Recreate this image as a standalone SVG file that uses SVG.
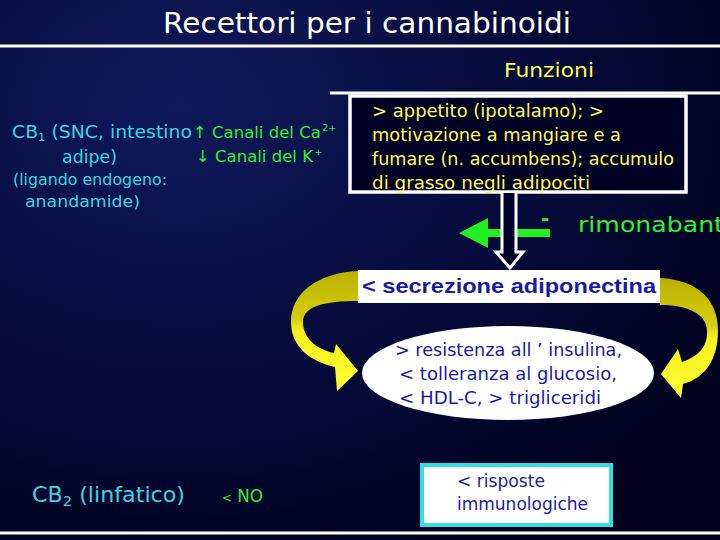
<svg xmlns="http://www.w3.org/2000/svg" width="720" height="540" viewBox="0 0 720 540">
<defs>
<radialGradient id="bg" cx="0.25" cy="0.2" r="0.95">
<stop offset="0" stop-color="#0f1a5a"/>
<stop offset="0.5" stop-color="#060b3c"/>
<stop offset="1" stop-color="#00001a"/>
</radialGradient>
<linearGradient id="ylL" x1="0" y1="0" x2="0" y2="1">
<stop offset="0" stop-color="#b8b000"/>
<stop offset="0.4" stop-color="#d6cf10"/>
<stop offset="0.5" stop-color="#f6f020"/>
<stop offset="1" stop-color="#ffff30"/>
</linearGradient>
<style>
.c{font-family:"DejaVu Sans","Open Sans",sans-serif}
.cy{fill:#3ad6e0}
.gr{fill:#33ee33}
.ye{fill:#ffff55}
.bl{fill:#1a1aa0}
.wl{stroke:#ffffff;stroke-width:3}
</style>
</defs>
<rect width="720" height="540" fill="url(#bg)"/>
<g id="title">
<text class="c" x="367" y="33" font-size="29" fill="#ffffff" text-anchor="middle" textLength="408" lengthAdjust="spacingAndGlyphs">Recettori per i cannabinoidi</text>
<line class="wl" x1="0" y1="46" x2="720" y2="46"/>
</g>
<g id="funzioni">
<text class="c ye" x="549" y="77" font-size="19" text-anchor="middle" textLength="90" lengthAdjust="spacingAndGlyphs">Funzioni</text>
<line class="wl" x1="330" y1="93" x2="720" y2="93"/>
</g>
<g id="cb1">
<text class="c cy" x="12" y="138" font-size="18" textLength="180" lengthAdjust="spacingAndGlyphs">CB<tspan font-size="11" dy="3">1</tspan><tspan dy="-3"> (SNC, intestino</tspan></text>
<text class="c cy" x="62" y="163" font-size="18" textLength="55" lengthAdjust="spacingAndGlyphs">adipe)</text>
<text class="c cy" x="13" y="185" font-size="15" textLength="154" lengthAdjust="spacingAndGlyphs">(ligando endogeno:</text>
<text class="c cy" x="25" y="207" font-size="15" textLength="115" lengthAdjust="spacingAndGlyphs">anandamide)</text>
</g>
<g id="canali">
<text class="c gr" x="193" y="138" font-size="16.5">↑ Canali del Ca<tspan font-size="9.5" dx="1.5" dy="-7">2+</tspan></text>
<text class="c gr" x="196" y="162" font-size="16.5">↓ Canali del K<tspan font-size="9.5" dx="1.5" dy="-7">+</tspan></text>
</g>
<g id="funzioni-box">
<rect x="350" y="96" width="336" height="96" fill="#000024" stroke="#ffffff" stroke-width="3.5"/>
<text class="c ye" font-size="17">
<tspan x="372" y="117" textLength="232" lengthAdjust="spacingAndGlyphs">&gt; appetito (ipotalamo); &gt;</tspan>
<tspan x="372" y="141" textLength="249" lengthAdjust="spacingAndGlyphs">motivazione a mangiare e a</tspan>
<tspan x="372" y="165" textLength="302" lengthAdjust="spacingAndGlyphs">fumare (n. accumbens); accumulo</tspan>
<tspan x="372" y="189" textLength="218" lengthAdjust="spacingAndGlyphs">di grasso negli adipociti</tspan>
</text>
</g>
<g id="rimonabant">
<text class="c gr" x="541" y="225" font-size="20" font-weight="bold">-</text>
<text class="c gr" x="578" y="232" font-size="22" textLength="146" lengthAdjust="spacingAndGlyphs">rimonabant</text>
</g>
<g id="adiponectina">
<rect x="358" y="270" width="302" height="33" fill="#ffffff"/>
<text x="362" y="293" font-family="'Liberation Sans',Arial,sans-serif" font-weight="bold" font-size="21" class="bl" textLength="294" lengthAdjust="spacingAndGlyphs">&lt; secrezione adiponectina</text>
</g>
<g id="effetti">
<ellipse cx="508" cy="373" rx="146" ry="47" fill="#ffffff"/>
<text class="c bl" font-size="18">
<tspan x="395" y="356" textLength="227" lengthAdjust="spacingAndGlyphs">&gt; resistenza all ’ insulina,</tspan>
<tspan x="399" y="380" textLength="218" lengthAdjust="spacingAndGlyphs">&lt; tolleranza al glucosio,</tspan>
<tspan x="399" y="404" textLength="202" lengthAdjust="spacingAndGlyphs">&lt; HDL-C, &gt; trigliceridi</tspan>
</text>
</g>
<g id="cb2">
<text class="c cy" x="32" y="502" font-size="21" textLength="153" lengthAdjust="spacingAndGlyphs">CB<tspan font-size="14" dy="4">2</tspan><tspan dy="-4"> (linfatico)</tspan></text>
<text class="c gr" x="222" y="502" font-size="17" textLength="41" lengthAdjust="spacingAndGlyphs"><tspan font-size="12">&lt;</tspan> NO</text>
</g>
<g id="risposte">
<rect x="422" y="465" width="189" height="60" fill="#ffffff" stroke="#33dde6" stroke-width="4"/>
<text class="c bl" font-size="17">
<tspan x="457" y="487" textLength="88" lengthAdjust="spacingAndGlyphs">&lt; risposte</tspan>
<tspan x="457" y="510" textLength="131" lengthAdjust="spacingAndGlyphs">immunologiche</tspan>
</text>
</g>
<g id="connectors">
<polygon points="550,229 488,229 488,218 459,233 488,248 488,237 550,237" fill="#22ee22"/>
<path d="M502 193 V252 H496 L510 268 L523 252 H516 V193" fill="#00002a" stroke="#ffffff" stroke-width="3"/>
<path d="M358 271 C316 273 291 294 291 322 C291 348 312 362 335 367 L337 391 L358 371 L336 344 L334 353 C316 349 303 338 303 322 C303 306 325 301 358 301 Z" fill="url(#ylL)"/>
<path d="M660 278 C700 280 718 302 718 330 C718 360 705 378 683 384 L681 398 L661 374 L678 349 L682 362 C700 356 708 345 707 330 C706 315 690 305 660 305 Z" fill="url(#ylL)"/>
</g>
<line class="wl" x1="0" y1="533" x2="720" y2="533" stroke-width="4"/>
</svg>
